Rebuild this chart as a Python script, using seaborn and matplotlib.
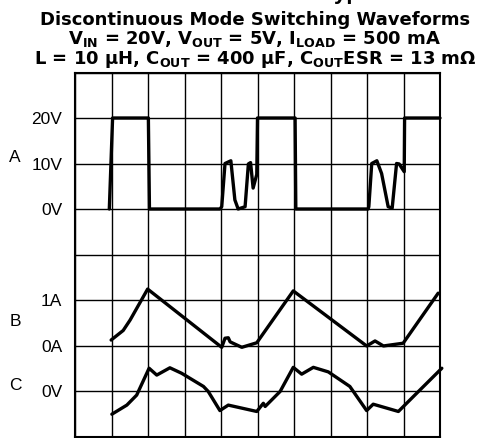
import matplotlib
matplotlib.use('Agg')
import matplotlib.pyplot as plt
import pandas as pd
import seaborn as sns

# Datos (x en divisiones horizontales)
t_a = [0.94, 1.03, 2.01, 2.04, 3.97, 4.02, 4.11, 4.27, 4.38, 4.47, 4.66, 4.75, 4.81, 4.88, 4.98,
       5.00, 6.03, 6.05, 8.03, 8.05, 8.13, 8.27, 8.40, 8.58, 8.69, 8.81, 8.88, 9.02, 9.03, 10.0]
v_a = [0, 20, 20, 0, 0, 0.5, 10, 10.6, 2, 0, 0.5, 9.9, 10.2, 4.6, 7.6,
       20, 20, 0, 0, 0.5, 10, 10.6, 7.8, 0.5, 0.2, 10, 9.9, 8.2, 20, 20]

t_b = [0.99, 1.32, 1.51, 1.99, 4.02, 4.11, 4.20, 4.25, 4.57, 4.98, 5.98, 7.99, 8.22, 8.45, 8.99, 9.95]
i_b = [0.12, 0.33, 0.56, 1.24, -0.04, 0.16, 0.17, 0.08, -0.04, 0.06, 1.20, -0.01, 0.10, -0.01, 0.05, 1.15]

t_c = [1.01, 1.42, 1.69, 2.03, 2.24, 2.60, 2.92, 3.52, 3.65, 3.97, 4.20, 4.98, 5.16, 5.21, 5.62,
       5.98, 6.21, 6.53, 6.94, 7.53, 7.99, 8.17, 8.86, 9.36, 10.05]
c_div = [-0.51, -0.31, -0.09, 0.50, 0.35, 0.51, 0.39, 0.10, -0.01, -0.43, -0.31, -0.45, -0.27, -0.34, -0.01,
         0.52, 0.37, 0.52, 0.42, 0.10, -0.43, -0.29, -0.45, -0.05, 0.50]

ytick_labels = ['', '0V', '0A', '1A', '', '0V', '10V', '20V', '']

sns.set_style('white')
plt.rcParams['font.family'] = ['Liberation Sans', 'DejaVu Sans']
plt.rcParams['text.color'] = 'black'
plt.rcParams['ytick.color'] = 'black'
plt.rcParams['mathtext.fontset'] = 'custom'
plt.rcParams['mathtext.rm'] = 'DejaVu Sans:bold'
plt.rcParams['mathtext.it'] = 'DejaVu Sans:bold'
plt.rcParams['mathtext.bf'] = 'DejaVu Sans:bold'

fig = plt.figure(figsize=(4.78, 4.38), dpi=100)
ax = fig.add_axes([75 / 478, 1.5 / 438, 365 / 478, 364 / 438])

# Canal A: 10 V/div, 0 V en la division 5
df_a = pd.DataFrame({'t': t_a, 'y': [5 + v / 10 for v in v_a]})
# Canal B: 1 A/div, 0 A en la division 2
df_b = pd.DataFrame({'t': t_b, 'y': [2 + i for i in i_b]})
# Canal C: 0 V en la division 1
df_c = pd.DataFrame({'t': t_c, 'y': [1 + c for c in c_div]})

for d in (df_a, df_b, df_c):
    sns.lineplot(data=d, x='t', y='y', sort=False, estimator=None, color='black',
                 linewidth=2.4, ax=ax, clip_on=False, zorder=3)

ax.set_xlim(0, 10)
ax.set_ylim(0, 8)
ax.set_xticks(range(11))
ax.set_xticklabels([])
ax.set_yticks(range(9))
ax.set_yticklabels(ytick_labels, fontsize=12.5, color='black')
ax.tick_params(length=0, pad=9)
ax.grid(True, color='black', linewidth=1.0)
ax.set_xlabel('')
ax.set_ylabel('')
for s in ax.spines.values():
    s.set_color('black')
    s.set_linewidth(1.5)

# Letras de canal
for lab, ypix in [('A', 157), ('B', 322), ('C', 386)]:
    fig.text(15 / 478, 1 - ypix / 438, lab, ha='center', va='center', fontsize=12.5, color='black')

# Titulos
tfont = dict(fontsize=13, fontweight='bold', family='DejaVu Sans', color='black')
fig.text(322 / 478, 1 + 0.5 / 438, 'Typical Performance Characteristics', ha='left', va='baseline',
         fontsize=16, fontweight='bold', family='Liberation Sans', color='black')
fig.text(255 / 478, 1 - 25 / 438, 'Discontinuous Mode Switching Waveforms', ha='center', va='baseline',
         **tfont)
fig.text(255 / 478, 1 - 44 / 438,
         r'V$_{\mathrm{IN}}$ = 20V, V$_{\mathrm{OUT}}$ = 5V, I$_{\mathrm{LOAD}}$ = 500 mA',
         ha='center', va='baseline', **tfont)
fig.text(255 / 478, 1 - 64.5 / 438,
         r'L = 10 µH, C$_{\mathrm{OUT}}$ = 400 µF, C$_{\mathrm{OUT}}$ESR = 13 mΩ',
         ha='center', va='baseline', **tfont)

fig.savefig('out.png', dpi=100)
